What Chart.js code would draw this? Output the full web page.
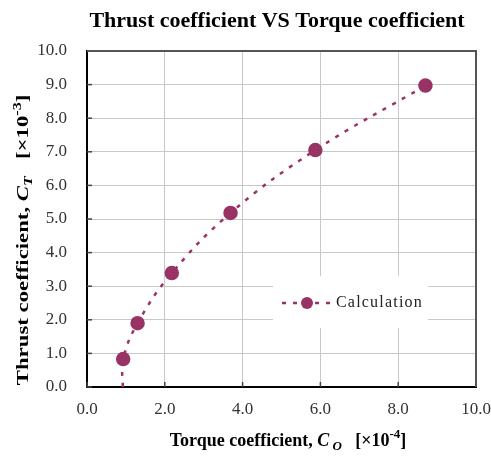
<!DOCTYPE html>
<html>
<head>
<meta charset="utf-8">
<script src="https://cdn.jsdelivr.net/npm/chart.js@4"></script>
<style>
  html, body { margin: 0; padding: 0; background: #fff; }
  #wrap { width: 491px; height: 456px; }
</style>
</head>
<body>
<div id="wrap"><canvas id="c" width="491" height="456"></canvas></div>
<script>
// torque coefficient (x10^-4) and thrust coefficient (x10^-3)
const torqueCoef = [0.92, 0.93, 1.30, 2.18, 3.69, 5.87, 8.70];
const thrustCoef = [0.0, 0.83, 1.90, 3.39, 5.18, 7.05, 8.97];
const markerRadius = [0, 6, 6, 6, 6, 6, 6];
const seriesName = "Calculation";
const plum = "#993366";
const serif = "'Liberation Serif', 'DejaVu Serif', serif";

function drawRich(ctx, parts, x, y, size) {
  // parts: [text, style] where style in n, i, sub, sup
  const fontFor = (p) => {
    const s = (p[1] === "sub" || p[1] === "sup") ? Math.round(size * 0.7) : size;
    const it = (p[1] === "i" || p[1] === "sub") ? "italic " : "";
    return it + "bold " + s + "px " + serif;
  };
  let total = 0;
  parts.forEach(p => { ctx.font = fontFor(p); total += ctx.measureText(p[0]).width; });
  let cx = x - total / 2;
  ctx.textBaseline = "middle";
  ctx.textAlign = "left";
  parts.forEach(p => {
    ctx.font = fontFor(p);
    let dy = 0;
    if (p[1] === "sub") dy = size * 0.3;
    if (p[1] === "sup") dy = -size * 0.35;
    ctx.fillText(p[0], cx, y + dy);
    cx += ctx.measureText(p[0]).width;
  });
}

const decor = {
  id: "decor",
  afterDraw(chart) {
    const ctx = chart.ctx;
    const a = chart.chartArea;
    const xs = chart.scales.x, ys = chart.scales.y;
    ctx.save();
    ctx.fillStyle = "#000";

    // tick marks pointing inward
    ctx.strokeStyle = "#444";
    ctx.lineWidth = 1.5;
    xs.ticks.forEach(t => {
      const px = xs.getPixelForValue(t.value);
      ctx.beginPath(); ctx.moveTo(px, a.bottom); ctx.lineTo(px, a.bottom - 5); ctx.stroke();
    });
    ys.ticks.forEach(t => {
      const py = ys.getPixelForValue(t.value);
      ctx.beginPath(); ctx.moveTo(a.left, py); ctx.lineTo(a.left + 5, py); ctx.stroke();
    });

    // top and right border
    ctx.strokeStyle = "#555";
    ctx.lineWidth = 2;
    ctx.beginPath();
    ctx.moveTo(a.left, a.top); ctx.lineTo(a.right, a.top); ctx.lineTo(a.right, a.bottom);
    ctx.stroke();

    // title
    ctx.fillStyle = "#000";
    ctx.font = "bold 22px " + serif;
    ctx.textAlign = "center";
    ctx.textBaseline = "middle";
    ctx.fillText("Thrust coefficient VS Torque coefficient", 277, 21);

    // x axis title
    drawRich(ctx, [["Torque coefficient, ", "n"], ["C", "i"], [" O", "sub"], ["   [\u00d710", "n"], ["-4", "sup"], ["]", "n"]],
      288, 441, 18);

    // y axis title (stretched along its length like the original)
    ctx.save();
    ctx.translate(24, 240);
    ctx.rotate(-Math.PI / 2);
    ctx.scale(1.34, 1);
    drawRich(ctx, [["Thrust coefficient, ", "n"], ["C", "i"], ["T", "sub"], ["   [\u00d710", "n"], ["-3", "sup"], ["]", "n"]],
      0, 0, 17);
    ctx.restore();

    // legend box
    const lx = 273, ly = 276, lw = 155, lh = 52;
    ctx.fillStyle = "#fff";
    ctx.fillRect(lx, ly, lw, lh);
    const my = 303;
    ctx.strokeStyle = plum;
    ctx.lineWidth = 2.5;
    ctx.setLineDash([4, 7]);
    ctx.beginPath(); ctx.moveTo(282, my); ctx.lineTo(330, my); ctx.stroke();
    ctx.setLineDash([]);
    ctx.fillStyle = plum;
    ctx.beginPath(); ctx.arc(307, my, 6, 0, Math.PI * 2); ctx.fill();
    ctx.fillStyle = "#222";
    ctx.font = "16px " + serif;
    ctx.textAlign = "left";
    ctx.textBaseline = "middle";
    ctx.letterSpacing = "1.2px";
    ctx.fillText(seriesName, 336, my);
    ctx.restore();
  }
};

new Chart(document.getElementById("c"), {
  type: "scatter",
  data: {
    datasets: [{
      label: seriesName,
      data: torqueCoef.map((v, i) => ({ x: v, y: thrustCoef[i] })),
      showLine: true,
      tension: 0.4,
      borderColor: plum,
      borderWidth: 2.5,
      borderDash: [4, 7],
      backgroundColor: plum,
      pointBackgroundColor: plum,
      pointBorderColor: plum,
      pointRadius: markerRadius,
      pointHoverRadius: markerRadius
    }]
  },
  plugins: [decor],
  options: {
    responsive: false,
    animation: false,
    events: [],
    layout: { padding: { top: 51, right: 0, left: 0, bottom: 0 } },
    plugins: { legend: { display: false }, title: { display: false }, tooltip: { enabled: false } },
    scales: {
      x: {
        type: "linear",
        min: 0, max: 10,
        afterFit: (s) => { s.height = 69; s.paddingRight = 15; },
        ticks: { stepSize: 2, padding: 12, color: "#333", font: { family: serif, size: 17 },
          callback: (v) => v.toFixed(1) },
        grid: { color: "#c8c8c8", lineWidth: 1, drawTicks: false },
        border: { color: "#000", width: 2 }
      },
      y: {
        type: "linear",
        min: 0, max: 10,
        afterFit: (s) => { s.width = 87; },
        ticks: { stepSize: 1, padding: 20, color: "#333", font: { family: serif, size: 17 },
          callback: (v) => v.toFixed(1) },
        grid: { color: "#c8c8c8", lineWidth: 1, drawTicks: false },
        border: { color: "#000", width: 2 }
      }
    }
  }
});
</script>
</body>
</html>
